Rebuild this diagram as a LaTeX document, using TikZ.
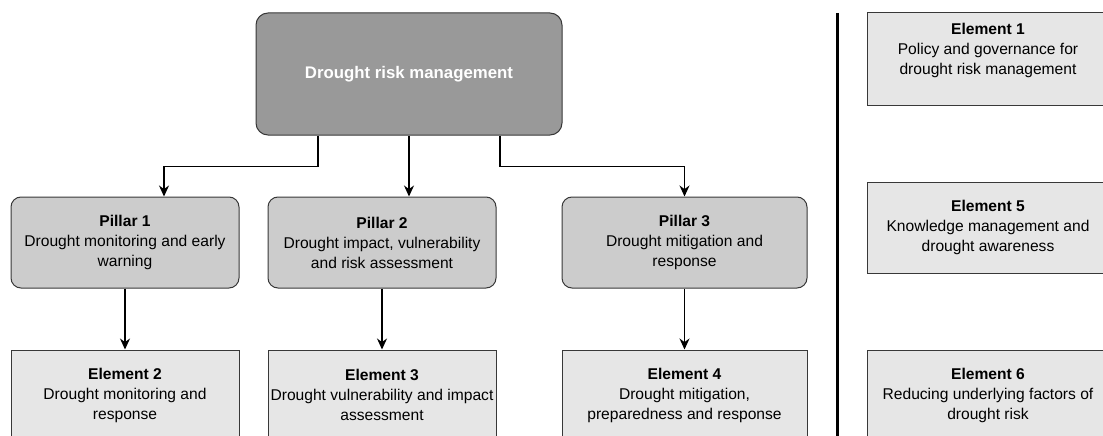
\documentclass[tikz,border=0pt]{standalone}
\usepackage{fontspec}
\setmainfont{Liberation Sans}
\usepackage{xcolor}
\definecolor{darkbox}{HTML}{999999}
\definecolor{midbox}{HTML}{CCCCCC}
\definecolor{lightbox}{HTML}{E6E6E6}
\definecolor{edgegray}{HTML}{383838}
\usetikzlibrary{arrows.meta}

\begin{document}
\begin{tikzpicture}[x=1pt,y=-1pt,
    font=\fontsize{15.6}{20}\selectfont,
    topbox/.style={draw=edgegray, fill=darkbox, line width=1pt, rounded corners=12pt,
        minimum width=306pt, minimum height=122pt, text=white, font=\fontsize{16.8}{20}\selectfont\bfseries},
    pillar/.style={draw=edgegray, fill=midbox, line width=1pt, rounded corners=10pt,
        minimum height=91pt, align=center, inner sep=0pt},
    element/.style={draw=edgegray, fill=lightbox, line width=1pt,
        align=center, inner sep=0pt},
    arr/.style={-{Stealth[length=11pt,width=10pt]}, line width=1.3pt}]
    \useasboundingbox (0,0) rectangle (1103,436);
    \clip (0,0) rectangle (1103,436);

    % Top box
    \node[topbox] (drm) at (409,74) {Drought risk management};

    % Pillars
    \node[pillar, minimum width=228pt] (p1) at (125,242.5) {\textbf{Pillar 1}\\Drought monitoring and early\\warning};
    \node[pillar, minimum width=228pt] (p2) at (382,242.5) {\textbf{Pillar 2}\\Drought impact, vulnerability\\and risk assessment};
    \node[pillar, minimum width=245pt] (p3) at (684.5,242.5) {\textbf{Pillar 3}\\Drought mitigation and\\response};

    % Elements below the pillars
    \node[element, minimum width=228pt, minimum height=90pt] (e2) at (125,395) {\textbf{Element 2}\\Drought monitoring and\\response};
    \node[element, minimum width=228pt, minimum height=90pt] (e3) at (382,395) {\textbf{Element 3}\\Drought vulnerability and impact\\assessment};
    \node[element, minimum width=245pt, minimum height=90pt] (e4) at (684.5,395) {\textbf{Element 4}\\Drought mitigation,\\preparedness and response};

    % Arrows top -> pillars -> elements
    \draw[arr] ([xshift=-91pt]drm.south) -- ++(0,31) -| ([xshift=39pt]p1.north);
    \draw[arr] (drm.south) -- (drm.south |- p2.north);
    \draw[arr] ([xshift=91pt]drm.south) -- ++(0,31) -| (p3.north);
    \foreach \a/\b in {p1/e2, p2/e3, p3/e4} {
        \draw[arr] (\a.south) -- (\b.north);
    }

    % Separator
    \coordinate (septop) at (837,13);
    \coordinate (sepbot) at (837,440);
    \draw[line width=3pt] (septop) -- (sepbot);

    % Cross-cutting elements
    \node[element, minimum width=242pt, minimum height=92pt] (e1) at (988,59) {};
    \node[align=center] (e1txt) at (988,50) {\textbf{Element 1}\\Policy and governance for\\drought risk management};
    \node[element, minimum width=242pt, minimum height=91pt] (e5) at (988,227.5) {\textbf{Element 5}\\Knowledge management and\\drought awareness};
    \node[element, minimum width=242pt, minimum height=90pt] (e6) at (988,395) {\textbf{Element 6}\\Reducing underlying factors of\\drought risk};
\end{tikzpicture}
\end{document}
